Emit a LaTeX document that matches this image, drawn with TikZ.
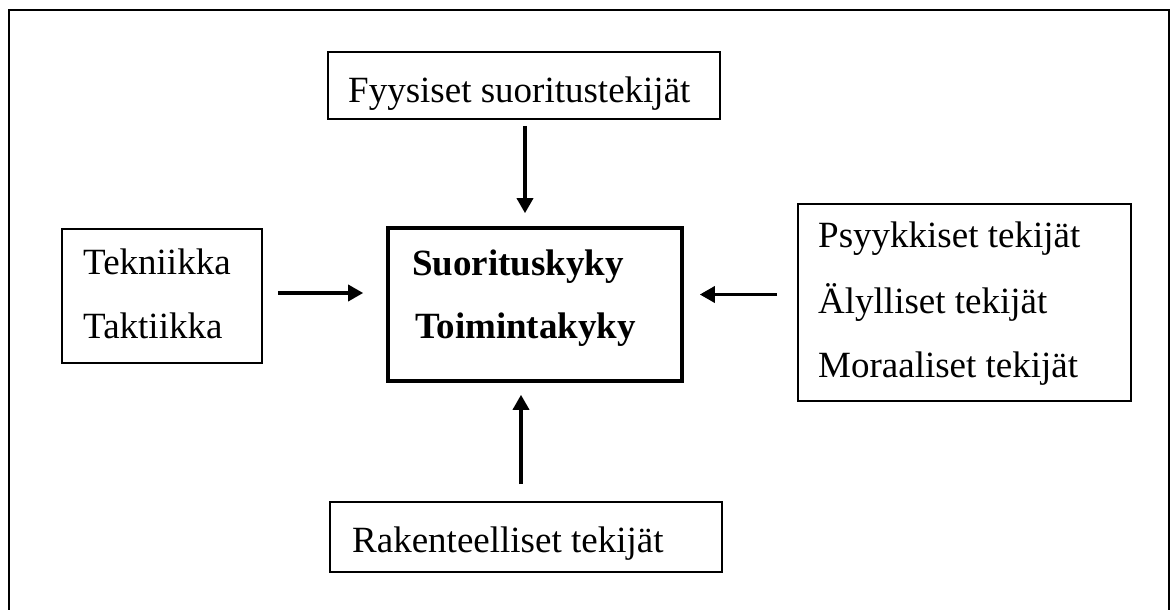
\documentclass[tikz,border=0pt]{standalone}
\usepackage{fontspec}
\setmainfont{Liberation Serif}
\usetikzlibrary{arrows.meta}
\begin{document}
\begin{tikzpicture}[x=1pt,y=-1pt,
  box/.style={draw=black, line width=1.6pt, inner sep=0pt, rectangle},
  mainbox/.style={draw=black, line width=3.6pt, inner sep=0pt, rectangle},
  lbl/.style={anchor=base west, inner sep=0pt, font=\fontsize{37}{44}\selectfont},
  blbl/.style={anchor=base west, inner sep=0pt, font=\fontsize{37}{44}\selectfont\bfseries},
  arr/.style={line width=3.4pt, -{Triangle[length=15pt,width=16pt]}}]
\useasboundingbox (0,0) rectangle (1172,610);
\fill[white] (0,0) rectangle (1172,610);
\begin{scope}
\clip (0,0) rectangle (1172,610);
\draw[line width=2.6pt] (9,650) -- (9,10) -- (1169,10) -- (1169,650);
\end{scope}
% boxes
\node[box, minimum width=392pt, minimum height=67pt] (top) at (524,85.5) {};
\node[mainbox, minimum width=294pt, minimum height=153pt] (center) at (535,304.5) {};
\node[box, minimum width=200pt, minimum height=134pt] (left) at (162,296) {};
\node[box, minimum width=333pt, minimum height=197pt] (right) at (964.5,302.5) {};
\node[box, minimum width=392pt, minimum height=70pt] (bottom) at (526,537) {};
% texts
\node[lbl] (t1) at (348,102) {Fyysiset suoritustekijät};
\node[blbl] (c1) at (412,275) {Suorituskyky};
\node[blbl] (c2) at (415,338) {Toimintakyky};
\node[lbl] (l1) at (83,274) {Tekniikka};
\node[lbl] (l2) at (83,338) {Taktiikka};
\node[lbl] (r1) at (818,247) {Psyykkiset tekijät};
\node[lbl] (r2) at (818,313) {Älylliset tekijät};
\node[lbl] (r3) at (818,377) {Moraaliset tekijät};
\node[lbl] (b1) at (352,552) {Rakenteelliset tekijät};
% arrows
\draw[arr, shorten <=6pt, shorten >=13pt] ([xshift=1pt]top.south) -- ([xshift=1pt]top.south |- center.north);
\draw[arr, shorten <=15pt, shorten >=23pt] ([yshift=3pt]left.east) -- ([yshift=3pt]left.east -| center.west);
\draw[arr, shorten <=20pt, shorten >=16pt] ([yshift=8pt]right.west) -- ([yshift=8pt]right.west -| center.east);
\draw[arr, shorten <=17pt, shorten >=12pt] ([xshift=-5pt]bottom.north) -- ([xshift=-5pt]bottom.north |- center.south);
\end{tikzpicture}
\end{document}
